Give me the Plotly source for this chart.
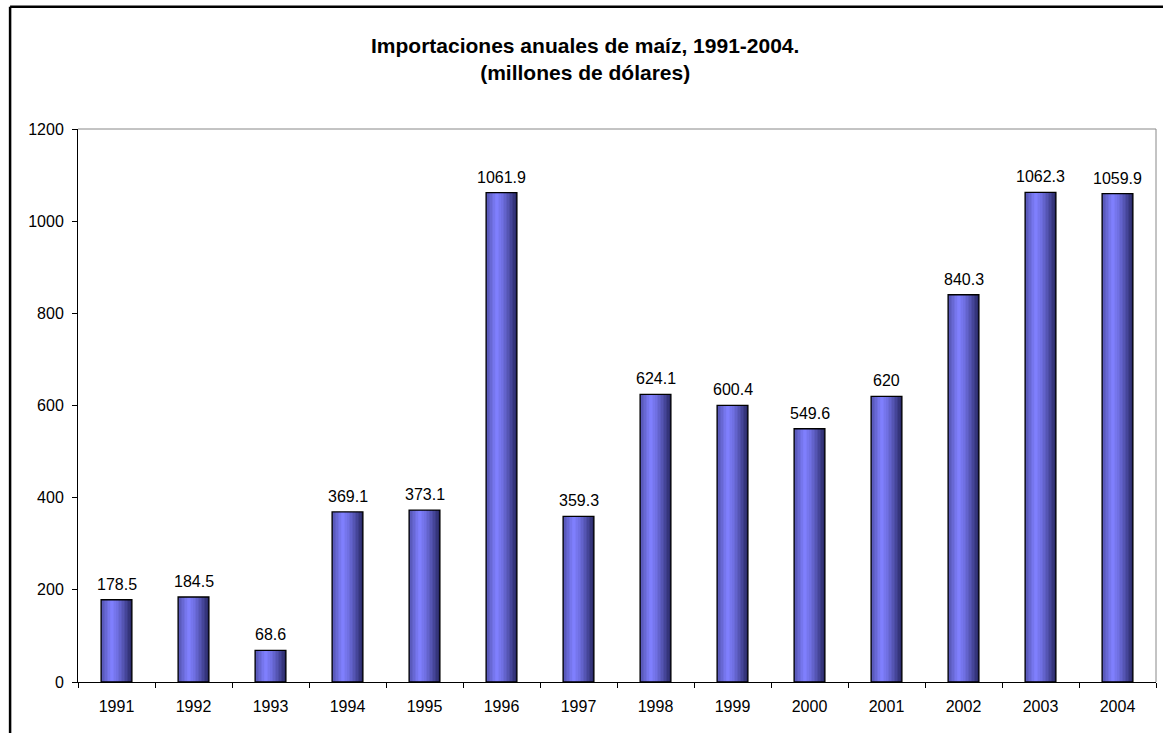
import plotly.graph_objects as go

# Importaciones anuales de maíz (millones de dólares)
years = ["1991", "1992", "1993", "1994", "1995", "1996", "1997",
         "1998", "1999", "2000", "2001", "2002", "2003", "2004"]
imports = [178.5, 184.5, 68.6, 369.1, 373.1, 1061.9, 359.3,
           624.1, 600.4, 549.6, 620, 840.3, 1062.3, 1059.9]
labels = ["178.5", "184.5", "68.6", "369.1", "373.1", "1061.9", "359.3",
          "624.1", "600.4", "549.6", "620", "840.3", "1062.3", "1059.9"]

FONT = "Arial, Liberation Sans, sans-serif"
BAR_W = 0.4
N_STRIPS = 20


def strip_color(t):
    # horizontal gradient: medium on the left, light near 35%, dark on the right
    dark_l = (80, 80, 170)
    light = (128, 128, 255)
    dark_r = (40, 40, 100)
    peak = 0.35
    if t < peak:
        a, b, f = dark_l, light, t / peak
    else:
        a, b, f = light, dark_r, ((t - peak) / (1 - peak)) ** 1.3
    return "rgb(%d,%d,%d)" % tuple(round(a[k] + (b[k] - a[k]) * f) for k in range(3))


fig = go.Figure()

sw = BAR_W / N_STRIPS
for i in range(N_STRIPS):
    fig.add_trace(go.Bar(
        x=years, y=imports,
        width=sw * 1.05, offset=-BAR_W / 2 + i * sw,
        marker=dict(color=strip_color((i + 0.5) / N_STRIPS), line=dict(width=0)),
        hoverinfo="skip", showlegend=False,
    ))

# outline
fig.add_trace(go.Bar(
    x=years, y=imports,
    width=BAR_W,
    marker=dict(color="rgba(0,0,0,0)", line=dict(color="black", width=1.3)),
    showlegend=False,
))

# value labels above the bars (category index as x)
for idx, (val, lab) in enumerate(zip(imports, labels)):
    fig.add_annotation(
        x=idx, y=val, text=lab, showarrow=False,
        yanchor="bottom", yshift=5,
        font=dict(family=FONT, size=16, color="black"),
    )

fig.add_annotation(
    text="<b>Importaciones anuales de maíz, 1991-2004.</b><br><b>(millones de dólares)</b>",
    xref="paper", yref="paper", x=0.47, y=1.0, yshift=97,
    xanchor="center", yanchor="top", showarrow=False,
    font=dict(family=FONT, size=21, color="black"),
)
fig.add_annotation(
    text="<b>Gráfica No. 16</b>",
    xref="paper", yref="paper", x=0.492, y=1.0, yshift=127,
    xanchor="center", yanchor="bottom", showarrow=False,
    font=dict(family=FONT, size=21, color="black"),
)

fig.update_layout(
    width=1163, height=733,
    barmode="overlay",
    paper_bgcolor="white", plot_bgcolor="white",
    font=dict(family=FONT, size=16, color="black"),
    margin=dict(l=78, r=7, t=129, b=51),
    xaxis=dict(
        type="category",
        range=[-0.5, len(years) - 0.5],
        showline=True, linecolor="black", linewidth=1,
        ticks="outside", ticklen=5, tickcolor="black",
        tickson="boundaries", showgrid=False,
        ticklabelstandoff=10, automargin=False,
        tickfont=dict(family=FONT, size=16, color="black"),
    ),
    yaxis=dict(
        range=[0, 1200], dtick=200,
        showline=True, linecolor="black", linewidth=1,
        ticks="outside", ticklen=5, tickcolor="black",
        showgrid=False, zeroline=False,
        ticklabelstandoff=5, automargin=False,
        tickfont=dict(family=FONT, size=16, color="black"),
    ),
    shapes=[
        # grey plot-area border on top and right
        dict(type="line", xref="paper", yref="paper", x0=0, x1=1, y0=1, y1=1,
             line=dict(color="#888888", width=1)),
        dict(type="line", xref="paper", yref="paper", x0=1, x1=1, y0=0, y1=1,
             line=dict(color="#888888", width=1)),
        # outer chart frame
        dict(type="line", xref="paper", yref="paper", x0=-0.063, x1=1.02, y0=1.221, y1=1.221,
             line=dict(color="black", width=2.5)),
        dict(type="line", xref="paper", yref="paper", x0=-0.063, x1=-0.063, y0=-0.2, y1=1.221,
             line=dict(color="black", width=2.5)),
    ],
)

fig.write_html(
    "out.html",
    config={"displayModeBar": False},
    post_script="document.body.style.margin = '0'; document.body.style.overflow = 'hidden';",
)
